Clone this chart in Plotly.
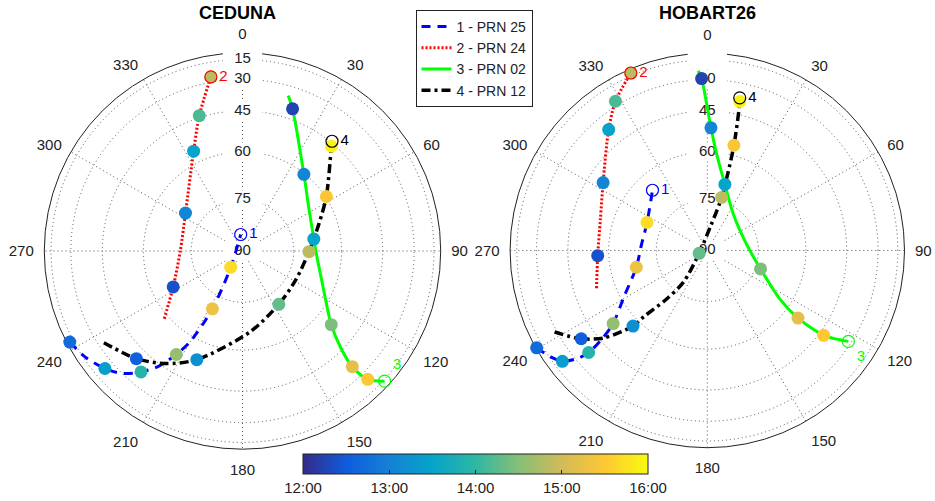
import numpy as np
import plotly.graph_objects as go

FONT = "Liberation Sans, Arial, Helvetica, sans-serif"
TXT = "#222222"

STATIONS = ["CEDUNA", "HOBART26"]
SAT_NAMES = ["1 - PRN 25", "2 - PRN 24", "3 - PRN 02", "4 - PRN 12"]
SAT_TAGS = ["1", "2", "3", "4"]
SAT_COLORS = ["#0000ff", "#ff0000", "#00ff00", "#000000"]
SAT_DASHES = ["9px,7px", "2px,2px", "solid", "9px,4px,3px,4px"]
SAT_WIDTHS = [3, 3, 3, 3.5]

AZ_TICKS = list(range(0, 360, 30))
EL_TICKS = [15, 30, 45, 60, 75, 90]
# elevation labels printed on the north spoke of each sky plot
EL_LABELS = {
    "CEDUNA": ["15", "30", "45", "60", "75", "90"],
    "HOBART26": ["", "30", "45", "60", "75", "90"],
}

TIME_TICKS = [12, 13, 14, 15, 16]
TIME_LABELS = ["12:00", "13:00", "14:00", "15:00", "16:00"]

# Sample times (decimal hours) of the coloured observations on each pass
prn25_times = [12.7, 13.4, 13.9, 14.6, 15.3, 15.7]
prn24_times = [12.4, 13.05, 13.5, 14.15, 14.85]
prn02_times = [12.25, 13.05, 13.5, 14.45, 15.2, 15.5]
prn12_times = [12.55, 13.2, 14.3, 14.85, 15.45, 15.9]

# CEDUNA passes: azimuth / elevation in degrees, ordered in time
ced_prn25_az = [242.2, 236.2, 229.5, 224.4, 220.0, 216.1, 212.6, 210.0, 207.5, 215.9, 353.8]
ced_prn25_el = [9.9, 16.6, 24.1, 30.1, 37.2, 43.9, 51.7, 58.1, 70.8, 84.2, 85.2]
ced_prn25_dots = [0, 2, 4, 6, 8, 9]

ced_prn24_az = [229.1, 242.6, 270.0, 303.6, 333.9, 342.3, 349.7]
ced_prn24_el = [58.5, 66.8, 71.7, 69.8, 55.9, 44.2, 26.8]
ced_prn24_dots = [1, 3, 4, 5, 6]

ced_prn02_az = [16.4, 19.4, 38.7, 56.5, 80.5, 90.0, 109.5, 129.7, 134.7, 136.5, 135.7, 132.5]
ced_prn02_el = [35.2, 40.5, 60.3, 66.4, 68.6, 68.3, 65.0, 54.4, 45.5, 36.4, 25.2, 13.6]
ced_prn02_dots = [1, 2, 4, 7, 9, 10]

ced_prn12_az = [236.5, 224.6, 214.4, 202.8, 174.7, 145.8, 118.5, 90.6, 70.6, 57.0, 40.3, 39.2]
ced_prn12_el = [33.0, 40.3, 46.5, 53.5, 65.8, 71.0, 72.2, 70.4, 65.9, 59.7, 46.1, 44.4]
ced_prn12_dots = [1, 3, 5, 7, 9, 10]

# HOBART26 passes
hob_prn25_az = [240.3, 235.8, 232.6, 230.3, 229.3, 230.0, 232.2, 241.4, 256.7, 274.7, 295.0, 317.7]
hob_prn25_el = [4.9, 16.2, 22.3, 30.9, 37.5, 45.9, 52.8, 61.4, 68.3, 70.4, 70.3, 65.6]
hob_prn25_dots = [0, 2, 4, 6, 8, 10]

hob_prn24_az = [251.2, 267.3, 286.4, 303.1, 320.8, 328.4, 336.7]
hob_prn24_el = [53.6, 56.2, 55.6, 50.9, 37.7, 27.3, 11.5]
hob_prn24_dots = [1, 3, 4, 5, 6]

hob_prn02_az = [357.1, 358.1, 1.7, 5.8, 14.9, 35.5, 80.6, 109.1, 123.7, 126.7, 126.1, 124.7, 122.8]
hob_prn02_el = [24.1, 29.3, 51.5, 61.0, 69.7, 76.9, 78.4, 73.4, 63.8, 55.0, 43.1, 38.3, 31.7]
hob_prn02_dots = [1, 2, 4, 7, 9, 10]

hob_prn12_az = [241.9, 235.0, 229.8, 224.5, 223.8, 219.9, 217.0, 250.7, 8.3, 15.1, 14.2, 12.3, 12.0]
hob_prn12_el = [28.6, 38.7, 46.6, 57.5, 62.2, 71.4, 78.4, 87.5, 82.5, 73.8, 56.6, 39.3, 37.7]
hob_prn12_dots = [1, 3, 7, 9, 10, 11]

SAT_TIMES = [prn25_times, prn24_times, prn02_times, prn12_times]
PASSES = {
    "CEDUNA": [
        (ced_prn25_az, ced_prn25_el, ced_prn25_dots),
        (ced_prn24_az, ced_prn24_el, ced_prn24_dots),
        (ced_prn02_az, ced_prn02_el, ced_prn02_dots),
        (ced_prn12_az, ced_prn12_el, ced_prn12_dots),
    ],
    "HOBART26": [
        (hob_prn25_az, hob_prn25_el, hob_prn25_dots),
        (hob_prn24_az, hob_prn24_el, hob_prn24_dots),
        (hob_prn02_az, hob_prn02_el, hob_prn02_dots),
        (hob_prn12_az, hob_prn12_el, hob_prn12_dots),
    ],
}
TAG_POS = {
    "CEDUNA": ["middle right", "middle right", "top right", "middle right"],
    "HOBART26": ["middle right", "middle right", "bottom right", "middle right"],
}

PARULA = [
    [0.000, "#352a87"], [0.125, "#0f5cdd"], [0.250, "#1481d6"],
    [0.375, "#06a4ca"], [0.500, "#2eb7a4"], [0.625, "#87bf77"],
    [0.750, "#d1bb59"], [0.875, "#fec832"], [1.000, "#f9fb0e"],
]


def sky_r(el):
    """Orthographic sky projection: radius = cos(elevation)."""
    return np.cos(np.radians(np.asarray(el, dtype=float)))


fig = go.Figure()

for k, station in enumerate(STATIONS):
    sp = "polar" if k == 0 else "polar2"

    # white boxes behind the elevation labels along the north spoke
    fig.add_trace(go.Scatterpolar(
        r=sky_r(EL_TICKS), theta=[0] * len(EL_TICKS), mode="markers",
        marker=dict(symbol="line-ew", size=28, color="white",
                    line=dict(color="white", width=19)),
        hoverinfo="skip", showlegend=False, subplot=sp))
    fig.add_trace(go.Scatterpolar(
        r=sky_r(EL_TICKS), theta=[0] * len(EL_TICKS), mode="text",
        text=EL_LABELS[station],
        textfont=dict(size=15, color=TXT, family=FONT),
        hoverinfo="skip", showlegend=False, subplot=sp))

    # satellite tracks
    for i, (az, el, _) in enumerate(PASSES[station]):
        fig.add_trace(go.Scatterpolar(
            r=sky_r(el), theta=az, mode="lines", name=SAT_NAMES[i],
            line=dict(color=SAT_COLORS[i], width=SAT_WIDTHS[i],
                      dash=SAT_DASHES[i], shape="spline", smoothing=0.8),
            showlegend=(k == 0), subplot=sp))

    # time-coloured observation samples
    d_az, d_el, d_t = [], [], []
    for i, (az, el, idx) in enumerate(PASSES[station]):
        d_az += [az[j] for j in idx]
        d_el += [el[j] for j in idx]
        d_t += SAT_TIMES[i]
    fig.add_trace(go.Scatterpolar(
        r=sky_r(d_el), theta=d_az, mode="markers",
        marker=dict(size=13, color=d_t, colorscale=PARULA, cmin=12, cmax=16,
                    line=dict(width=0), showscale=(k == 0),
                    colorbar=dict(
                        orientation="h", x=0.5086, xanchor="center",
                        y=0.0898, yanchor="top", len=345, lenmode="pixels",
                        thickness=20, xpad=0, ypad=0,
                        outlinecolor="#222", outlinewidth=1,
                        tickmode="array", tickvals=TIME_TICKS, ticktext=TIME_LABELS,
                        ticks="inside", ticklen=4, tickcolor="#222",
                        tickfont=dict(size=15, color=TXT, family=FONT))),
        showlegend=False, subplot=sp))

    # end-of-pass markers with satellite numbers
    for i, (az, el, _) in enumerate(PASSES[station]):
        fig.add_trace(go.Scatterpolar(
            r=sky_r([el[-1]]), theta=[az[-1]], mode="markers+text",
            text=[SAT_TAGS[i]], textposition=TAG_POS[station][i],
            textfont=dict(size=15, color=SAT_COLORS[i], family=FONT),
            marker=dict(symbol="circle-open", size=12, color=SAT_COLORS[i],
                        line=dict(width=1.2, color=SAT_COLORS[i])),
            showlegend=False, subplot=sp))

grid_dash = "1px,3px"
angular = dict(
    rotation=90, direction="clockwise", tickmode="array",
    tickvals=AZ_TICKS, ticktext=[str(a) for a in AZ_TICKS],
    tickfont=dict(size=15, color=TXT, family=FONT),
    ticks="outside", ticklen=7, tickcolor="rgba(0,0,0,0)",
    showline=True, linecolor=TXT, linewidth=1,
    showgrid=True, gridcolor="#555555", griddash=grid_dash, gridwidth=1,
    layer="below traces")
radial = dict(
    range=[0, 1], tickmode="array", tickvals=sky_r(EL_TICKS[:-1]),
    showticklabels=False, ticks="", showline=False,
    showgrid=True, gridcolor="#555555", griddash=grid_dash, gridwidth=1,
    layer="below traces")

W, H = 935, 501
fig.update_layout(
    width=W, height=H, autosize=False,
    margin=dict(l=0, r=0, t=0, b=0),
    paper_bgcolor="white", plot_bgcolor="white",
    font=dict(family=FONT, color=TXT, size=15),
    polar=dict(domain=dict(x=[43.5 / W, 441.5 / W], y=[50 / H, 448 / H]),
               bgcolor="white", angularaxis=angular, radialaxis=radial),
    polar2=dict(domain=dict(x=[509.3 / W, 905.3 / W], y=[51.5 / H, 447.5 / H]),
                bgcolor="white", angularaxis=angular, radialaxis=radial),
    legend=dict(x=474 / W, xanchor="center", y=1 - 10 / H, yanchor="top",
                bgcolor="white", bordercolor="#222", borderwidth=1,
                font=dict(size=14, color=TXT, family=FONT)),
    annotations=[
        dict(text="<b>CEDUNA</b>", x=237 / W, y=1 - 13.5 / H, xref="paper", yref="paper",
             xanchor="center", yanchor="middle", showarrow=False,
             font=dict(size=18, color="black", family=FONT)),
        dict(text="<b>HOBART26</b>", x=707 / W, y=1 - 13.5 / H, xref="paper", yref="paper",
             xanchor="center", yanchor="middle", showarrow=False,
             font=dict(size=18, color="black", family=FONT)),
    ],
)

fig.write_html("out.html")
